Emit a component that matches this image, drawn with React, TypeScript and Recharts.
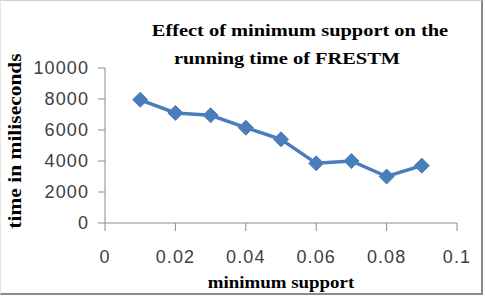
import { LineChart, Line, XAxis, YAxis } from 'recharts';

// minimum support thresholds and measured running times (ms)
const supports = [0.01, 0.02, 0.03, 0.04, 0.05, 0.06, 0.07, 0.08, 0.09];
const runTimes = [7950, 7100, 6950, 6150, 5400, 3850, 4000, 3000, 3700];
const xTicks = [0, 0.02, 0.04, 0.06, 0.08, 0.1];
const yTicks = [0, 2000, 4000, 6000, 8000, 10000];

const data = supports.map((s, i) => ({ support: s, time: runTimes[i] }));

const SERIES = '#4A7EBB';
const AXIS = '#8c8c8c';
const serif = '"Liberation Serif", "Times New Roman", serif';
const sans = '"Liberation Sans", Arial, sans-serif';

const Diamond = (props: any) => {
  const { cx, cy } = props;
  if (cx == null || cy == null) return null;
  const r = 7.5;
  return (
    <path
      d={`M${cx},${cy - r} L${cx + r},${cy} L${cx},${cy + r} L${cx - r},${cy} Z`}
      fill={SERIES}
      stroke={SERIES}
    />
  );
};

const fmtX = (v: number) => (v === 0 ? '0' : String(Number(v.toFixed(2))));

const tickStyle = { fill: '#404040', fontSize: 18, fontFamily: sans, letterSpacing: 1.1 };

const titleLine = {
  position: 'absolute' as const,
  whiteSpace: 'nowrap' as const,
  fontFamily: serif,
  fontWeight: 'bold' as const,
  fontSize: 17,
  color: '#000',
};

export default function App() {
  return (
    <div style={{ position: 'fixed', left: 0, top: 0, width: 485, height: 300, background: '#fff' }}>
      <div
        style={{
          position: 'absolute',
          left: 0,
          top: 0,
          width: 483,
          height: 295,
          borderTop: '1px solid #d0d0d0',
          borderLeft: '1px solid #e4e4e4',
          borderRight: '2px solid #8a8a8a',
          borderBottom: '2px solid #8a8a8a',
          boxSizing: 'border-box',
        }}
      />
      <LineChart
        width={485}
        height={300}
        data={data}
        margin={{ top: 68, right: 28, left: 0, bottom: 0 }}
        style={{ position: 'absolute', left: 0, top: 0 }}
      >
        <XAxis
          dataKey="support"
          type="number"
          domain={[0, 0.1]}
          ticks={xTicks}
          tickFormatter={fmtX}
          height={77}
          stroke={AXIS}
          tickSize={8}
          tickMargin={19}
          tick={tickStyle}
        />
        <YAxis
          type="number"
          domain={[0, 10000]}
          ticks={yTicks}
          width={105}
          stroke={AXIS}
          tickSize={7}
          tickMargin={9}
          tick={tickStyle}
        />
        <Line
          dataKey="time"
          stroke={SERIES}
          strokeWidth={3.5}
          dot={<Diamond />}
          activeDot={false}
          isAnimationActive={false}
        />
      </LineChart>
      <div style={{ ...titleLine, left: 300, top: 31, transform: 'translate(-50%, -50%) scaleX(1.2)' }}>
        Effect of minimum support on the
      </div>
      <div style={{ ...titleLine, left: 287, top: 59, transform: 'translate(-50%, -50%) scaleX(1.2)' }}>
        running time of FRESTM
      </div>
      <div
        style={{
          position: 'absolute',
          left: 15,
          top: 141,
          transform: 'translate(-50%, -50%) rotate(-90deg) scaleX(1.13)',
          whiteSpace: 'nowrap',
          fontFamily: serif,
          fontWeight: 'bold',
          fontSize: 19,
          color: '#000',
        }}
      >
        time in miliseconds
      </div>
      <div
        style={{
          position: 'absolute',
          left: 281,
          top: 283,
          transform: 'translate(-50%, -50%) scaleX(1.18)',
          whiteSpace: 'nowrap',
          fontFamily: serif,
          fontWeight: 'bold',
          fontSize: 16,
          color: '#000',
        }}
      >
        minimum support
      </div>
    </div>
  );
}
